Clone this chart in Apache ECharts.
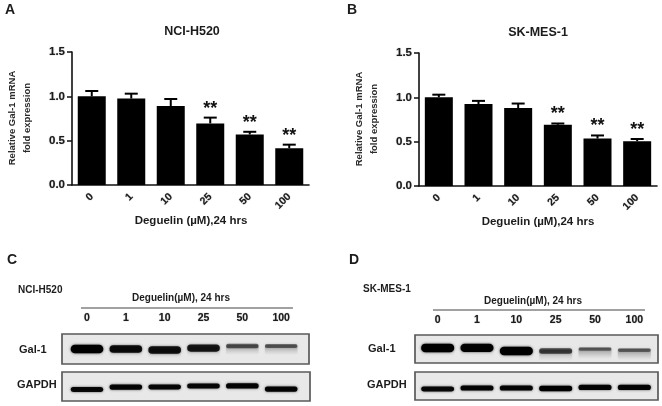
<!DOCTYPE html>
<html><head><meta charset="utf-8">
<style>html,body{margin:0;padding:0;background:#fff}#c{width:662px;height:406px}</style>
<script src="https://cdn.jsdelivr.net/npm/echarts@6/dist/echarts.min.js"></script>
</head><body><div id="c"></div>
<script>
const doses = ['0','1','10','25','50','100'];
const h520Mean = [1.0,0.975,0.89,0.695,0.57,0.415];
const h520Upper = [1.06,1.03,0.97,0.76,0.60,0.455];
const mesMean = [1.0,0.925,0.88,0.69,0.535,0.505];
const mesUpper = [1.03,0.96,0.93,0.705,0.57,0.53];
const sig = ['','','','**','**','**'];
const h520Gal = [1.0,0.88,0.85,0.8,0.42,0.36];
const h520GalLane = [0.5,0.5,0.47,0.53,0.6,0.6];
const h520Gapdh = [0.92,0.95,0.92,0.92,0.95,0.95];
const h520GapdhLane = [0.40,0.48,0.48,0.52,0.52,0.41];
const mesGal = [1.0,0.97,1.0,0.55,0.3,0.3];
const mesGalLane = [0.54,0.54,0.43,0.43,0.5,0.46];
const mesGapdh = [0.92,0.95,0.95,1.0,0.95,0.95];
const mesGapdhLane = [0.39,0.43,0.43,0.41,0.45,0.45];

const FONT = '"Liberation Sans", Arial, sans-serif', INK = '#1c1c1c';
const chart = echarts.init(document.getElementById('c'), null, {renderer:'canvas'});
const grids=[], xs=[], ys=[], series=[], graphics=[];
const blur = {textShadowColor:'rgba(30,30,30,0.55)', textShadowBlur:1};

function txt(text,x,y,size,extra){
  graphics.push({type:'text',x,y,z:5,style:Object.assign({text,font:`bold ${size}px ${FONT}`,fill:INK,
    textAlign:'left',textVerticalAlign:'middle',shadowColor:'rgba(30,30,30,0.5)',shadowBlur:1},extra||{})});
}
function barPanel(left,right,top,bottom,mean,upper){
  const i=grids.length;
  grids.push({left,top,width:right-left,height:bottom-top});
  xs.push({gridIndex:i,type:'category',data:doses,
    axisLine:{lineStyle:{color:'#111',width:1.6}},
    axisTick:{alignWithLabel:true,length:4,lineStyle:{color:'#111',width:1.5}},
    axisLabel:Object.assign({rotate:45,margin:10,fontFamily:FONT,fontWeight:'bold',fontSize:10.5,color:INK},blur)});
  ys.push({gridIndex:i,type:'value',min:0,max:1.5,interval:0.5,splitLine:{show:false},
    axisLine:{show:true,lineStyle:{color:'#111',width:1.6}},
    axisTick:{show:true,length:5,lineStyle:{color:'#111',width:1.5}},
    axisLabel:Object.assign({margin:7,fontFamily:FONT,fontWeight:'bold',fontSize:11.5,color:INK,
      formatter:v=>v.toFixed(1)},blur)});
  series.push({type:'bar',xAxisIndex:i,yAxisIndex:i,data:mean,barWidth:28,itemStyle:{color:'#000'},silent:true,z:3});
  series.push({type:'custom',xAxisIndex:i,yAxisIndex:i,z:4,silent:true,clip:false,
    data:upper.map((u,k)=>[k,mean[k],u]),
    encode:{x:0,y:[1,2]},
    renderItem(p,api){
      const a=api.coord([api.value(0),api.value(1)]), b=api.coord([api.value(0),api.value(2)]);
      const st={stroke:'#000',lineWidth:2,fill:null}, cap=6.5;
      const ch=[
        {type:'line',shape:{x1:a[0],y1:a[1],x2:b[0],y2:b[1]},style:st},
        {type:'line',shape:{x1:a[0]-cap,y1:b[1],x2:a[0]+cap,y2:b[1]},style:st}];
      const s=sig[api.value(0)];
      if(s) ch.push({type:'text',style:{text:s,x:a[0],y:b[1]-9,textAlign:'center',textVerticalAlign:'middle',
        font:`bold 18px ${FONT}`,fill:'#111'}});
      return {type:'group',children:ch};
    }});
}
function blotRow(fl,fr,ft,fb,vals,lanes,laneL,laneR,bandH,smear,dy){
  graphics.push({type:'rect',z:0,shape:{x:fl,y:ft,width:fr-fl,height:fb-ft},
    style:{fill:'#e8e8e8',stroke:'#5a5a5a',lineWidth:1.7}});
  const i=grids.length;
  grids.push({left:laneL,top:ft,width:laneR-laneL,height:fb-ft});
  xs.push({gridIndex:i,type:'category',data:doses,position:'top',offset:dy||0,
    axisLine:{show:false},axisTick:{show:false},
    axisLabel:Object.assign({show:dy!==undefined,margin:0,fontFamily:FONT,fontWeight:'bold',fontSize:10.5,color:INK},blur)});
  ys.push({gridIndex:i,type:'value',min:0,max:1,show:false});
  series.push({type:'custom',xAxisIndex:i,yAxisIndex:i,z:3,silent:true,clip:false,
    data:vals.map((v,k)=>[k,lanes[k],v]),encode:{x:0,y:1},
    renderItem(p,api){
      const v=api.value(2), c=api.coord([api.value(0),api.value(1)]);
      const w=api.size([1,0])[0]*0.84, h=1.5+bandH*v, ch=[];
      if(smear){
        const a=(1-v)*0.55+0.08;
        ch.push({type:'rect',shape:{x:c[0]-w/2,y:c[1]-1,width:w,height:smear,r:2},
          style:{fill:{type:'linear',x:0,y:0,x2:0,y2:1,colorStops:[
            {offset:0,color:`rgba(70,70,70,${a})`},{offset:1,color:'rgba(120,120,120,0)'}]},
            shadowBlur:3,shadowColor:'rgba(120,120,120,0.25)'}});
      }
      ch.push({type:'rect',shape:{x:c[0]-w/2,y:c[1]-h/2,width:w,height:h,r:h/2},
        style:{fill:`rgba(0,0,0,${0.2+0.8*v})`,shadowBlur:2.5,shadowColor:`rgba(0,0,0,${0.75*v})`}});
      return {type:'group',children:ch};
    }});
}
barPanel(72,309,52,185,h520Mean,h520Upper);
barPanel(419,657,53,186,mesMean,mesUpper);
blotRow(62,309,334,364,h520Gal,h520GalLane,67.6,300.6,7,10,10);
blotRow(62,310,372,401,h520Gapdh,h520GapdhLane,67.6,300.6,3.8);
blotRow(415,658,335,363,mesGal,mesGalLane,418,654,7,11,9);
blotRow(415,658,372,400,mesGapdh,mesGapdhLane,418,654,3.8);

txt('A',5,10,14); txt('B',347,10,14); txt('C',7,260,14); txt('D',349,260,14);
txt('NCI-H520',192,32,12.5,{textAlign:'center'});
txt('SK-MES-1',538,33,12.5,{textAlign:'center'});
txt('Deguelin (µM),24 hrs',191,221,11.5,{textAlign:'center'});
txt('Deguelin (µM),24 hrs',538,222,11.5,{textAlign:'center'});
function yName(x,y,t){graphics.push({type:'text',x,y,z:5,rotation:Math.PI/2,
  style:{text:t,font:`bold 9.5px ${FONT}`,fill:'#2a2a2a',textAlign:'center',textVerticalAlign:'middle',lineHeight:15,
    shadowColor:'rgba(30,30,30,0.5)',shadowBlur:1}});}
yName(20,118,'Relative Gal-1 mRNA\nfold expression');
yName(367,119,'Relative Gal-1 mRNA\nfold expression');
txt('NCI-H520',18,290,10); txt('SK-MES-1',363,289,10);
txt('Deguelin(µM), 24 hrs',181,298,10,{textAlign:'center'});
txt('Deguelin(µM), 24 hrs',533,301,10,{textAlign:'center'});
txt('Gal-1',19,350,11); txt('GAPDH',17,385,11);
txt('Gal-1',368,349,11); txt('GAPDH',367,385,11);
graphics.push({type:'line',z:1,shape:{x1:81,y1:308,x2:293,y2:308},style:{stroke:'#444',lineWidth:1.2}});
graphics.push({type:'line',z:1,shape:{x1:433,y1:310,x2:645,y2:310},style:{stroke:'#444',lineWidth:1.2}});

chart.setOption({animation:false,backgroundColor:'#fff',grid:grids,xAxis:xs,yAxis:ys,series,graphic:{elements:graphics}});
</script></body></html>
